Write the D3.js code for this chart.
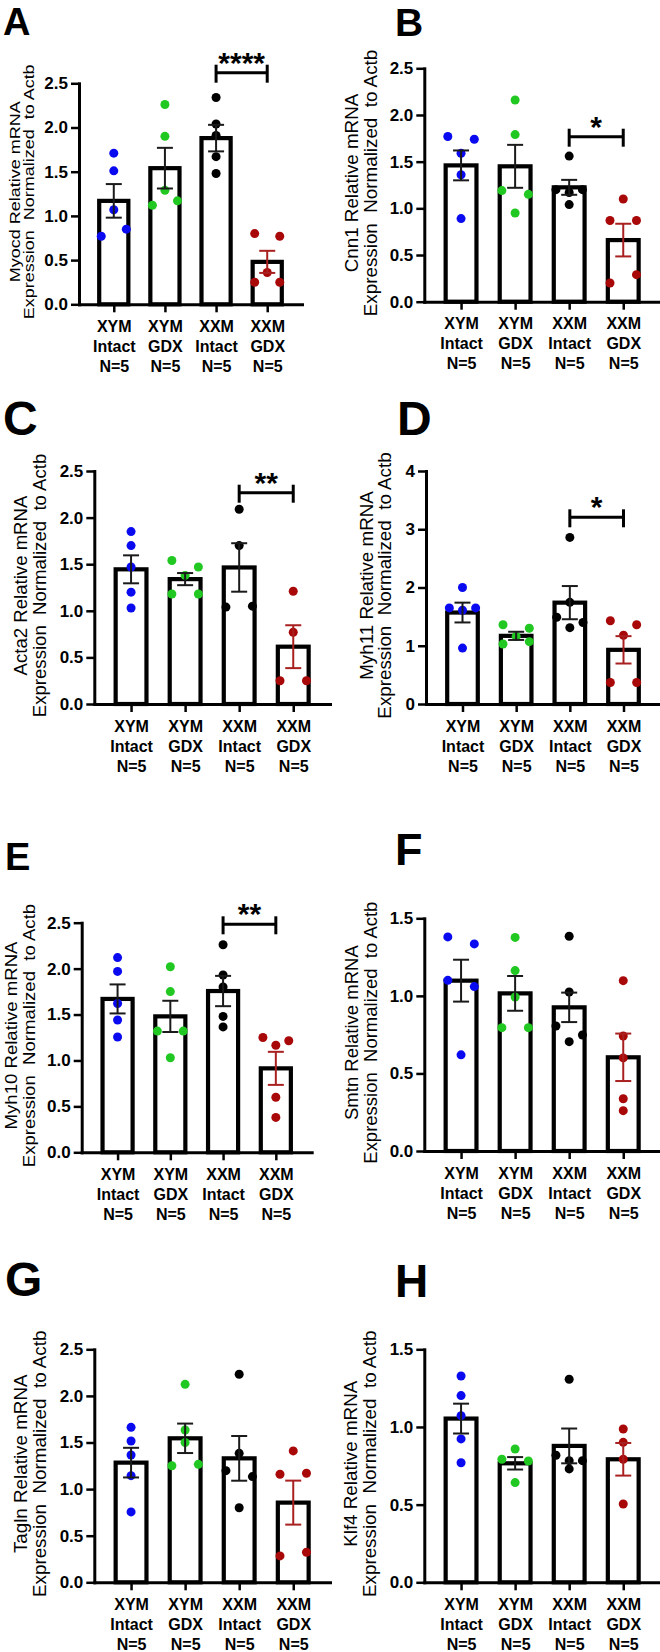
<!DOCTYPE html>
<html>
<head>
<meta charset="utf-8">
<script src="https://cdn.jsdelivr.net/npm/d3@7"></script>
<style>
  body { margin: 0; background: #fff; }
  svg { display: block; font-family: Arial, "Liberation Sans", sans-serif; }
</style>
</head>
<body>
<svg id="fig" width="660" height="1652"></svg>
<script>
// ---- data ----
const groups = ["XYM Intact", "XYM GDX", "XXM Intact", "XXM GDX"];
const sampleN = [5, 5, 5, 5];
const groupColors = ["#0a0af0", "#22c822", "#000000", "#a80808"];
const genes = ["Myocd", "Cnn1", "Acta2", "Myh11", "Myh10", "Smtn", "Tagln", "Klf4"];
const panelLetters = ["A", "B", "C", "D", "E", "F", "G", "H"];
const yMax = [2.5, 2.5, 2.5, 4, 2.5, 1.5, 2.5, 1.5];
const tickStep = [0.5, 0.5, 0.5, 1, 0.5, 0.5, 0.5, 0.5];

const means = [
  [1.17, 1.54, 1.88, 0.48],
  [1.46, 1.45, 1.225, 0.66],
  [1.445, 1.34, 1.465, 0.615],
  [1.57, 1.17, 1.74, 0.93],
  [1.67, 1.48, 1.756, 0.914],
  [1.098, 1.016, 0.926, 0.604],
  [1.284, 1.545, 1.33, 0.855],
  [1.054, 0.766, 0.878, 0.792]
];
const sems = [
  [0.19, 0.23, 0.15, 0.125],
  [0.16, 0.23, 0.08, 0.175],
  [0.15, 0.065, 0.26, 0.23],
  [0.17, 0.07, 0.285, 0.235],
  [0.158, 0.17, 0.165, 0.18],
  [0.135, 0.112, 0.095, 0.153],
  [0.159, 0.158, 0.24, 0.236],
  [0.096, 0.04, 0.112, 0.105]
];
// individual animals, per gene, per group
const points = [
  [[1.71, 1.51, 1.07, 0.77, 0.85], [2.26, 1.90, 1.29, 1.12, 1.17], [2.34, 2.04, 1.91, 1.67, 1.48], [0.80, 0.77, 0.36, 0.25, 0.25]],
  [[1.77, 1.74, 1.59, 1.36, 0.89], [2.16, 1.79, 1.19, 1.15, 0.95], [1.56, 1.20, 1.17, 1.20, 1.04], [1.10, 0.87, 0.87, 0.20, 0.29]],
  [[1.85, 1.70, 1.47, 1.20, 1.03], [1.54, 1.47, 1.38, 1.18, 1.18], [2.09, 1.70, 1.04, 1.05], [1.21, 0.77, 0.25, 0.25]],
  [[2.00, 1.65, 1.61, 1.65, 0.96], [1.36, 1.30, 1.03, 1.16, 1.07], [2.86, 1.745, 1.49, 1.31, 1.40], [1.43, 1.36, 1.18, 0.37, 0.37]],
  [[2.12, 1.97, 1.62, 1.44, 1.255], [2.02, 1.75, 1.32, 1.32, 1.03], [2.26, 1.93, 1.80, 1.48, 1.365], [1.25, 1.165, 1.215, 0.60, 0.38]],
  [[1.38, 1.335, 1.10, 1.06, 0.62], [1.377, 1.163, 0.993, 0.795, 0.795], [1.384, 1.025, 0.806, 0.705, 0.748], [1.098, 0.741, 0.60, 0.337, 0.26]],
  [[1.663, 1.516, 1.366, 1.144, 0.755], [2.124, 1.634, 1.50, 1.25, 1.266], [2.232, 1.384, 1.198, 1.134, 0.80], [1.41, 1.159, 1.17, 0.283, 0.322]],
  [[1.328, 1.202, 1.073, 0.923, 0.770], [0.858, 0.792, 0.781, 0.642], [1.307, 0.818, 0.783, 0.783, 0.73], [0.987, 0.901, 0.792, 0.504]]
];
const sigBars = [
  { from: "XXM Intact", to: "XXM GDX", label: "****" },
  { from: "XXM Intact", to: "XXM GDX", label: "*" },
  { from: "XXM Intact", to: "XXM GDX", label: "**" },
  { from: "XXM Intact", to: "XXM GDX", label: "*" },
  { from: "XXM Intact", to: "XXM GDX", label: "**" },
  null, null, null
];

// ---- where each panel sits on the page ----
// t1/t2: offsets of the two y-title lines from the axis; ts: title size; sq: vertical squash of the title glyphs
const layout = [
  { axisX: 79,    xEnd: 302,   yTop: 83.3,   y0: 304.3,  t1: -64,   t2: -49.5, ts: 18,   sq: 0.78, lx: 3,   ly: 35,   ls: 38, sigY: 72.7 },
  { axisX: 424.3, xEnd: 660,   yTop: 68.3,   y0: 301.7,  t1: -72.6, t2: -53.6, ts: 18.8, sq: 0.97, lx: 395, ly: 36,   ls: 39, sigY: 136.7 },
  { axisX: 94.3,  xEnd: 330,   yTop: 471,    y0: 704,    t1: -73.6, t2: -54.3, ts: 18.6, sq: 0.97, lx: 3,   ly: 435,  ls: 48, sigY: 492.7 },
  { axisX: 426,   xEnd: 660,   yTop: 471,    y0: 704,    t1: -59.3, t2: -41,   ts: 18.8, sq: 0.94, lx: 397, ly: 435,  ls: 48, sigY: 517.3 },
  { axisX: 81.7,  xEnd: 311.7, yTop: 922.7,  y0: 1152.3, t1: -70,   t2: -52.7, ts: 18.6, sq: 0.88, lx: 5,   ly: 870,  ls: 38, sigY: 924.3 },
  { axisX: 424.3, xEnd: 660,   yTop: 918.3,  y0: 1151,   t1: -72.6, t2: -53.6, ts: 18.5, sq: 0.97, lx: 395, ly: 865,  ls: 45 },
  { axisX: 94.3,  xEnd: 330,   yTop: 1349.3, y0: 1582.3, t1: -73.6, t2: -54.3, ts: 18.8, sq: 0.97, lx: 5,   ly: 1296, ls: 48 },
  { axisX: 424.3, xEnd: 660,   yTop: 1349.3, y0: 1582.3, t1: -73.6, t2: -54.3, ts: 18.8, sq: 0.97, lx: 395, ly: 1297, ls: 46 }
];

const DOT_R = 4.5;

// GraphPad-like scatter: dots whose heights collide are put side by side
function jitterSlots(vals, y) {
  const order = vals.map((v, k) => k).sort((a, b) => vals[b] - vals[a]);
  const out = new Array(vals.length).fill(0);
  let k = 0;
  while (k < order.length) {
    const start = y(vals[order[k]]);
    const cluster = [order[k++]];
    while (k < order.length && y(vals[order[k]]) - start < 9.5) cluster.push(order[k++]);
    cluster.sort((a, b) => a - b);
    const n = cluster.length;
    const pos = n === 2 ? [-1, 1] : cluster.map((c, m) => m - (n - 1) / 2);
    cluster.forEach((c, m) => out[c] = pos[m]);
  }
  return out;
}

const svg = d3.select("#fig");

genes.forEach((gene, i) => {
  const L = layout[i];
  const g = svg.append("g").attr("class", "panel-" + panelLetters[i]);

  const y = d3.scaleLinear().domain([0, yMax[i]]).range([L.y0, L.yTop]);
  const x = d3.scalePoint().domain(groups).range([L.axisX, L.xEnd]).padding(0.68);
  const bw = x.step() * 0.57;
  const slotW = x.step() * 0.245;

  // panel letter
  g.append("text")
    .attr("x", L.lx).attr("y", L.ly)
    .attr("font-size", L.ls).attr("font-weight", "bold")
    .text(panelLetters[i]);

  // bars
  g.selectAll("rect.bar").data(groups).join("rect")
    .attr("class", "bar")
    .attr("x", d => x(d) - bw / 2)
    .attr("y", (d, j) => y(means[i][j]))
    .attr("width", bw)
    .attr("height", (d, j) => L.y0 - y(means[i][j]))
    .attr("fill", "#fff")
    .attr("stroke", "#000")
    .attr("stroke-width", 4.2);

  // dots
  groups.forEach((grp, j) => {
    const vals = points[i][j];
    const slots = jitterSlots(vals, y);
    g.selectAll(null).data(vals).join("circle")
      .attr("cx", (v, k) => x(grp) + slots[k] * slotW)
      .attr("cy", v => y(v))
      .attr("r", DOT_R)
      .attr("fill", groupColors[j]);
  });

  // error bars (SEM)
  groups.forEach((grp, j) => {
    const m = means[i][j], s = sems[i][j];
    const col = j === 3 ? "#a82020" : "#1a1a1a";
    const cx = x(grp);
    const eg = g.append("g").attr("stroke", col).attr("stroke-width", 2).attr("fill", "none");
    eg.append("line").attr("x1", cx).attr("x2", cx).attr("y1", y(m - s)).attr("y2", y(m + s));
    [m - s, m + s].forEach(v => {
      eg.append("line").attr("x1", cx - 8).attr("x2", cx + 8).attr("y1", y(v)).attr("y2", y(v));
    });
  });

  // y axis
  const step = tickStep[i];
  const yAxis = g.append("g")
    .attr("transform", `translate(${L.axisX},0)`)
    .call(d3.axisLeft(y)
      .tickValues(d3.range(0, yMax[i] + step / 2, step))
      .tickFormat(step < 1 ? d3.format(".1f") : d3.format("d"))
      .tickSize(8).tickSizeOuter(0).tickPadding(3));
  yAxis.attr("font-family", null).attr("font-size", 17).attr("font-weight", "bold");
  yAxis.select(".domain").attr("stroke-width", 3).attr("stroke-linecap", "square");
  yAxis.selectAll(".tick line").attr("stroke-width", 2.5);
  yAxis.selectAll(".tick text").attr("fill", "#000");

  // x axis with three-line group labels
  const xAxis = g.append("g")
    .attr("transform", `translate(0,${L.y0})`)
    .call(d3.axisBottom(x).tickSize(8).tickSizeOuter(0));
  xAxis.attr("font-family", null).attr("font-size", 16).attr("font-weight", "bold");
  xAxis.select(".domain").attr("stroke-width", 3).attr("stroke-linecap", "square");
  xAxis.selectAll(".tick line").attr("stroke-width", 2.5);
  xAxis.selectAll(".tick text")
    .text(null).attr("y", null).attr("dy", null).attr("fill", "#000")
    .selectAll("tspan")
    .data(d => [...d.split(" "), "N=" + sampleN[groups.indexOf(d)]])
    .join("tspan")
    .attr("x", 0)
    .attr("y", (t, k) => 27.7 + k * 20)
    .text(t => t);

  // y title, two lines
  const midY = (L.y0 + L.yTop) / 2;
  [[L.t1, `${gene} Relative mRNA`], [L.t2, "Expression  Normalized  to Actb"]].forEach(([off, txt]) => {
    g.append("text")
      .attr("transform", `translate(${L.axisX + off},${midY - 2}) rotate(-90) scale(1,${L.sq})`)
      .attr("text-anchor", "middle")
      .attr("dy", "0.35em")
      .attr("font-size", L.ts)
      .style("white-space", "pre")
      .text(txt);
  });

  // significance bracket
  const sig = sigBars[i];
  if (sig) {
    const x1 = x(sig.from), x2 = x(sig.to);
    const sg = g.append("g").attr("stroke", "#000").attr("stroke-width", 3);
    sg.append("line").attr("x1", x1).attr("x2", x2).attr("y1", L.sigY).attr("y2", L.sigY);
    [x1, x2].forEach(xx => {
      sg.append("line").attr("x1", xx).attr("x2", xx).attr("y1", L.sigY - 8).attr("y2", L.sigY + 10);
    });
    g.append("text")
      .attr("x", (x1 + x2) / 2)
      .attr("y", L.sigY)
      .attr("text-anchor", "middle")
      .attr("font-size", 30).attr("font-weight", "bold")
      .text(sig.label);
  }
});
</script>
</body>
</html>
